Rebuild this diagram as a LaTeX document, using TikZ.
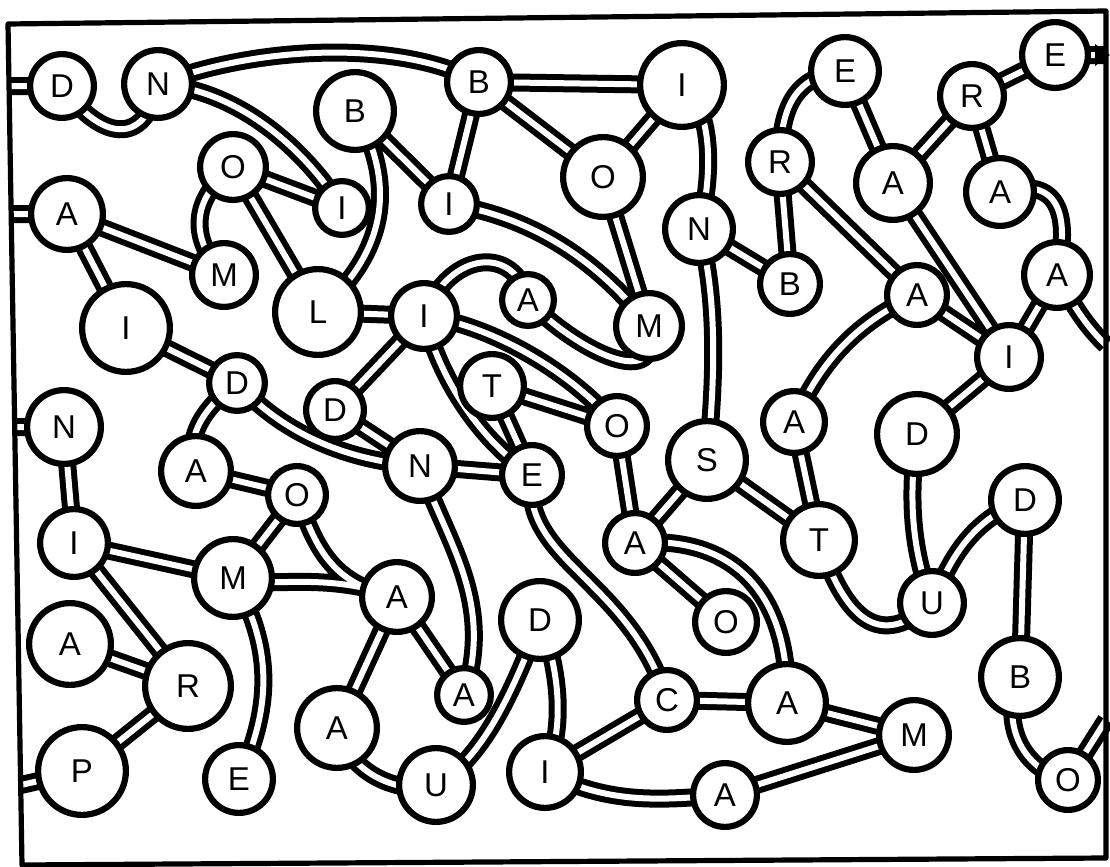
\documentclass[tikz,border=0pt]{standalone}
\usepackage{fontspec}
\setmainfont{Liberation Sans}
\pgfdeclarelayer{bg}
\pgfsetlayers{bg,main}
\tikzset{
  nd/.style={circle,draw,fill=white,line width=3.1pt,inner sep=0pt,
    minimum size={(#1-3.1)*1pt},font=\fontsize{16.5}{16.5}\selectfont},
  tubeout/.style={draw,black,line width=9pt},
  tubein/.style={draw,white,line width=3pt},
  frame/.style={draw,line width=2.6pt,line join=round}
}
\newcommand\tubepaths[1]{%
\path[#1]
 (bL1) -- (nD1.center)
 (nD1.center) .. controls (100,140) and (145,148) .. (nN1.center)
 (nN1.center) .. controls (260,45) and (400,40) .. (nB2.center)
 (nN1.center) .. controls (240,90) and (305,150) .. (nI2.center)
 (nO1.center) -- (nI2.center)
 (nO1.center) .. controls (190,200) and (190,240) .. (nM1.center)
 (nO1.center) -- (nL.center)
 (bL2) -- (nA3.center)
 (nA3.center) -- (nM1.center)
 (nA3.center) -- (nI5.center)
 (nB1.center) .. controls (395,180) and (390,250) .. (nL.center)
 (nB1.center) -- (nI3.center)
 (nB2.center) -- (nI3.center)
 (nB2.center) -- (nI1.center)
 (nB2.center) -- (nO2.center)
 (nI1.center) -- (nO2.center)
 (nI1.center) .. controls (715,110) and (712,180) .. (nN2.center)
 (nO2.center) -- (nM2.center)
 (nI3.center) .. controls (520,215) and (590,250) .. (nM2.center)
 (nN2.center) .. controls (718,300) and (715,380) .. (nS.center)
 (nN2.center) -- (nB3.center)
 (nI4.center) .. controls (450,250) and (515,245) .. (nA4.center)
 (nA4.center) .. controls (575,350) and (665,395) .. (nM2.center)
 (nI4.center) .. controls (490,325) and (570,370) .. (nO3.center)
 (nL.center) -- (nI4.center)
 (nI4.center) -- (nD3.center)
 (nI4.center) .. controls (440,380) and (480,440) .. (nE3.center)
 (nT1.center) -- (nE3.center)
 (nT1.center) -- (nO3.center)
 (nN4.center) -- (nE3.center)
 (nD3.center) -- (nN4.center)
 (nD2.center) .. controls (280,430) and (340,460) .. (nN4.center)
 (nD2.center) -- (nI5.center)
 (nD2.center) .. controls (200,410) and (185,440) .. (nA8.center)
 (nA8.center) -- (nO4.center)
 (nO4.center) -- (nM3.center)
 (nO4.center) .. controls (315,545) and (330,585) .. (nA10.center)
 (nM3.center) .. controls (265,590) and (320,570) .. (nA10.center)
 (nI7.center) -- (nM3.center)
 (bL3) -- (nN3.center)
 (nN3.center) -- (nI7.center)
 (nI7.center) -- (nR3.center)
 (nA11.center) -- (nR3.center)
 (nR3.center) -- (nP.center)
 (nP.center) -- (bL4)
 (nM3.center) .. controls (275,650) and (270,710) .. (nE4.center)
 (nA10.center) -- (nA14.center)
 (nA10.center) -- (nA12.center)
 (nN4.center) .. controls (445,540) and (495,600) .. (nA12.center)
 (nA14.center) .. controls (350,775) and (400,795) .. (nU2.center)
 (nU2.center) .. controls (480,760) and (510,700) .. (nD6.center)
 (nD6.center) .. controls (560,670) and (565,730) .. (nI8.center)
 (nI8.center) -- (nC.center)
 (nI8.center) .. controls (610,805) and (660,800) .. (nA15.center)
 (nC.center) -- (nA13.center)
 (nA13.center) -- (nM4.center)
 (nA15.center) -- (nM4.center)
 (nE3.center) .. controls (520,560) and (630,580) .. (nC.center)
 (nO3.center) -- (nA9.center)
 (nS.center) -- (nA9.center)
 (nS.center) -- (nT2.center)
 (nA9.center) -- (nO5.center)
 (nA9.center) .. controls (730,535) and (790,590) .. (nA13.center)
 (nA7.center) -- (nT2.center)
 (nT2.center) .. controls (845,620) and (880,650) .. (nU1.center)
 (nA7.center) .. controls (820,360) and (860,320) .. (nA5.center)
 (nA5.center) -- (nI6.center)
 (nA1.center) -- (nI6.center)
 (nR2.center) -- (nA5.center)
 (nR2.center) -- (nB3.center)
 (nR2.center) .. controls (780,100) and (800,75) .. (nE1.center)
 (nE1.center) -- (nA1.center)
 (nA1.center) -- (nR1.center)
 (nR1.center) -- (nE2.center)
 (nE2.center) -- (bR1)
 (nR1.center) -- (nA2.center)
 (nA2.center) .. controls (1060,175) and (1070,215) .. (nA6.center)
 (nA6.center) -- (nI6.center)
 (nA6.center) .. controls (1075,310) and (1090,330) .. (bR2)
 (nI6.center) -- (nD4.center)
 (nD4.center) .. controls (908,500) and (912,550) .. (nU1.center)
 (nU1.center) .. controls (950,560) and (970,520) .. (nD5.center)
 (nD5.center) -- (nB4.center)
 (nB4.center) .. controls (1000,720) and (1020,770) .. (nO6.center)
 (nO6.center) -- (bR3);
}
\begin{document}
\begin{tikzpicture}[x=0.5pt,y=-0.5pt]
\useasboundingbox (0,0) rectangle (1110,867);
% border anchors
\coordinate (bL1) at (9,86);
\coordinate (bL2) at (11,214);
\coordinate (bL3) at (14,427);
\coordinate (bL4) at (21,785);
\coordinate (bR1) at (1106,55);
\coordinate (bR2) at (1106,345);
\coordinate (bR3) at (1106,720);
% nodes
\node[nd=35] (nD1) at (62,86) {D};
\node[nd=37] (nN1) at (158,84) {N};
\node[nd=42] (nB1) at (355,111) {B};
\node[nd=35] (nB2) at (479,82) {B};
\node[nd=45] (nI1) at (682,85) {I};
\node[nd=37] (nE1) at (845,71) {E};
\node[nd=35] (nR1) at (972,96) {R};
\node[nd=36] (nE2) at (1055,55) {E};
\node[nd=36] (nO1) at (233,167) {O};
\node[nd=30] (nI2) at (342,208) {I};
\node[nd=31] (nI3) at (449,204) {I};
\node[nd=43] (nO2) at (603,177) {O};
\node[nd=37] (nN2) at (699,229) {N};
\node[nd=35] (nR2) at (780,162) {R};
\node[nd=40] (nA1) at (893,183) {A};
\node[nd=37] (nA2) at (1000,192) {A};
\node[nd=39] (nA3) at (67,214) {A};
\node[nd=35] (nM1) at (224,275) {M};
\node[nd=46] (nL) at (318,312) {L};
\node[nd=36] (nI4) at (424,316) {I};
\node[nd=29] (nA4) at (528,300) {A};
\node[nd=36] (nM2) at (649,326) {M};
\node[nd=33] (nB3) at (790,284) {B};
\node[nd=33] (nA5) at (917,295) {A};
\node[nd=36] (nA6) at (1057,275) {A};
\node[nd=47] (nI5) at (126,328) {I};
\node[nd=35] (nI6) at (1009,357) {I};
\node[nd=31] (nD2) at (237,383) {D};
\node[nd=32] (nD3) at (335,410) {D};
\node[nd=35] (nT1) at (492,386) {T};
\node[nd=33] (nO3) at (617,426) {O};
\node[nd=34] (nA7) at (794,422) {A};
\node[nd=43] (nD4) at (917,434) {D};
\node[nd=40] (nN3) at (64,427) {N};
\node[nd=38] (nA8) at (196,471) {A};
\node[nd=32] (nO4) at (297,495) {O};
\node[nd=38] (nN4) at (420,466) {N};
\node[nd=33] (nE3) at (532,475) {E};
\node[nd=42] (nS) at (707,460) {S};
\node[nd=37] (nD5) at (1025,500) {D};
\node[nd=37] (nI7) at (74,543) {I};
\node[nd=42] (nM3) at (233,578) {M};
\node[nd=33] (nA9) at (635,543) {A};
\node[nd=39] (nT2) at (819,540) {T};
\node[nd=38] (nA10) at (397,597) {A};
\node[nd=42] (nD6) at (540,620) {D};
\node[nd=34] (nO5) at (726,622) {O};
\node[nd=35] (nU1) at (932,603) {U};
\node[nd=44] (nA11) at (70,644) {A};
\node[nd=46] (nR3) at (188,686) {R};
\node[nd=30] (nA12) at (464,695) {A};
\node[nd=33] (nC) at (667,700) {C};
\node[nd=42] (nA13) at (787,703) {A};
\node[nd=42] (nB4) at (1020,677) {B};
\node[nd=43] (nA14) at (337,728) {A};
\node[nd=38] (nM4) at (914,735) {M};
\node[nd=47] (nP) at (82,771) {P};
\node[nd=37] (nE4) at (239,779) {E};
\node[nd=40] (nU2) at (436,785) {U};
\node[nd=39] (nI8) at (545,772) {I};
\node[nd=35] (nA15) at (725,795) {A};
\node[nd=33] (nO6) at (1068,780) {O};
\begin{pgfonlayer}{bg}
\tubepaths{tubeout}
\tubepaths{tubein}
\end{pgfonlayer}
\draw[frame] (8,24) -- (1106,11) -- (1106,858) -- (22,865) -- cycle;
\fill (1095,44) -- (1110,55) -- (1095,66) -- cycle;
\end{tikzpicture}
\end{document}
